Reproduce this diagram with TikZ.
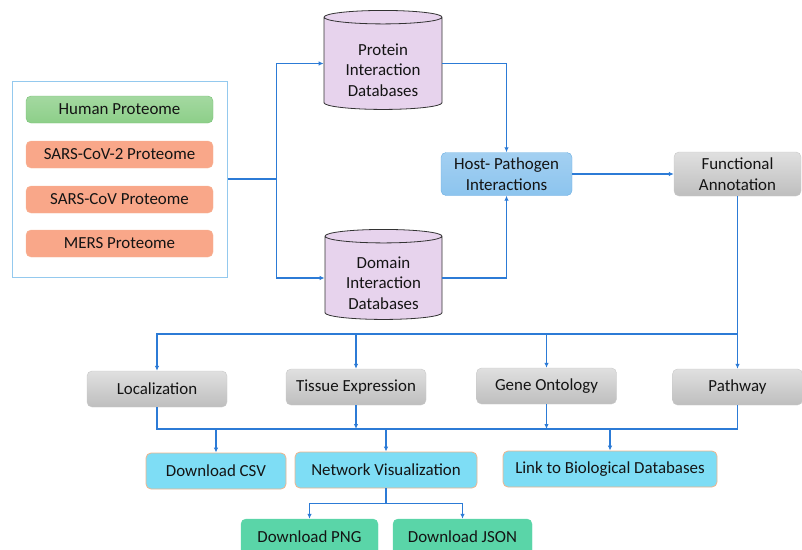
\documentclass[tikz,border=0pt]{standalone}
\usepackage{fontspec}
\setmainfont{Carlito}
\usetikzlibrary{
  arrows.meta,
  shapes.geometric
}

\definecolor{lnblue}{HTML}{2C7BD6}
\definecolor{txtdark}{HTML}{141414}
\definecolor{framebl}{HTML}{94C9EE}
\definecolor{hgreen}{HTML}{8DCF89}
\definecolor{hgreenbd}{HTML}{79C076}
\definecolor{vorange}{HTML}{F9A789}
\definecolor{vorangebd}{HTML}{F6B596}
\definecolor{lavender}{HTML}{E7D3ED}
\definecolor{hpblue}{HTML}{8CC4EE}
\definecolor{hpbluebd}{HTML}{6CAEE2}
\definecolor{greytop}{HTML}{E0E0E0}
\definecolor{greybot}{HTML}{BEBEBE}
\definecolor{greybd}{HTML}{C8C8C8}
\definecolor{cyanfill}{HTML}{7EDDF5}
\definecolor{cyanbd}{HTML}{F0B48C}
\definecolor{mint}{HTML}{5AD5A8}

\begin{document}
\begin{tikzpicture}[x=1pt,y=-1pt,>={Latex[length=5pt,width=4.5pt]},
  txt/.style={font=\fontsize{16.9}{20.5}\selectfont, text=txtdark, align=center},
  box/.style={txt, rounded corners=5pt, minimum height=36pt, inner sep=0pt},
  protbox/.style={box, minimum width=187pt, minimum height=27pt},
  greybox/.style={box, draw=greybd, top color=greytop, bottom color=greybot},
  cyanbox/.style={box, draw=cyanbd, fill=cyanfill, line width=0.8pt},
  mintbox/.style={box, draw=mint, fill=mint},
  dbcyl/.style={txt, cylinder, shape border rotate=90, aspect=0.18,
    draw=black!80, fill=lavender, line width=0.8pt, inner sep=0pt},
  link/.style={lnblue, line width=1.2pt}
]
\useasboundingbox (0,0) rectangle (802,549);

% 入力のプロテオーム
\node[draw=framebl, line width=1pt, minimum width=215pt, minimum height=196pt]
  (frame) at (119.5,179) {};
\node[protbox, draw=hgreenbd, top color=hgreen!80!white, bottom color=hgreen]
  (human) at (119.5,109.5) {Human Proteome};
\node[protbox, draw=vorangebd, fill=vorange] (sars2) at (119.5,154.5) {SARS-CoV-2 Proteome};
\node[protbox, draw=vorangebd, fill=vorange] (sars) at (119.5,199.5) {SARS-CoV Proteome};
\node[protbox, draw=vorangebd, fill=vorange] (mers) at (119.5,243.5) {MERS Proteome};

% データベース（文字は胴の部分へ少し下げる）
\node[dbcyl, minimum width=118pt, minimum height=99pt]
  (prot) at (383,63.5) {\rule{0pt}{25pt}Protein\\Interaction\\Databases};
\node[dbcyl, minimum width=117pt, minimum height=90pt]
  (dom) at (383.5,278) {\rule{0pt}{22pt}Domain\\Interaction\\Databases};

% 相互作用と注釈
\node[box, draw=hpbluebd, top color=hpblue!80!white, bottom color=hpblue,
  minimum width=131pt, minimum height=43pt]
  (host) at (506.5,174) {Host- Pathogen\\Interactions};
\node[greybox, minimum width=127pt, minimum height=44pt]
  (func) at (737.5,174) {Functional\\Annotation};

\node[greybox, minimum width=140pt] (loc) at (157,389) {Localization};
\node[greybox, minimum width=140pt] (tissue) at (356,387) {Tissue Expression};
\node[greybox, minimum width=140pt] (gene) at (546.5,386) {Gene Ontology};
\node[greybox, minimum width=130pt] (path) at (737.5,387) {Pathway};

% 出力
\node[cyanbox, minimum width=140pt] (csv) at (216,471) {Download CSV};
\node[cyanbox, minimum width=182pt] (netvis) at (386,470) {Network Visualization};
\node[cyanbox, minimum width=214pt] (biolink) at (610,469) {Link to Biological Databases};
\node[mintbox, minimum width=137pt] (png) at (309.5,537) {Download PNG};
\node[mintbox, minimum width=139pt] (json) at (462.5,537) {Download JSON};

% 接続線
\draw[link] (frame.east) -- ++(49,0) coordinate (split);
\draw[link,->] (split) |- (prot.west);
\draw[link,->] (split) |- (dom.west);
\draw[link,->] (prot.east) -| (host.north);
\draw[link,->] (dom.east) -| (host.south);
\draw[link,->] (host.east) -- (func.west);

\coordinate (busA) at (737.5,334);
\coordinate (busB) at (737.5,429);
\draw[link,->] (func.south) -- (path.north);
\draw[link,->] (busA) -| (loc.north);
\draw[link,->] (tissue.north |- busA) -- (tissue.north);
\draw[link,->] (gene.north |- busA) -- (gene.north);

\draw[link] (loc.south) |- (busB) -- (path.south);
\draw[link,->] (tissue.south) -- (tissue.south |- busB);
\draw[link,->] (gene.south) -- (gene.south |- busB);
\draw[link,->] (csv.north |- busB) -- (csv.north);
\draw[link,->] (netvis.north |- busB) -- (netvis.north);
\draw[link,->] (biolink.north |- busB) -- (biolink.north);

\draw[link] (netvis.south) -- ++(0,15) coordinate (splitB);
\draw[link,->] (splitB) -| (png.north);
\draw[link,->] (splitB) -| (json.north);

\end{tikzpicture}
\end{document}
